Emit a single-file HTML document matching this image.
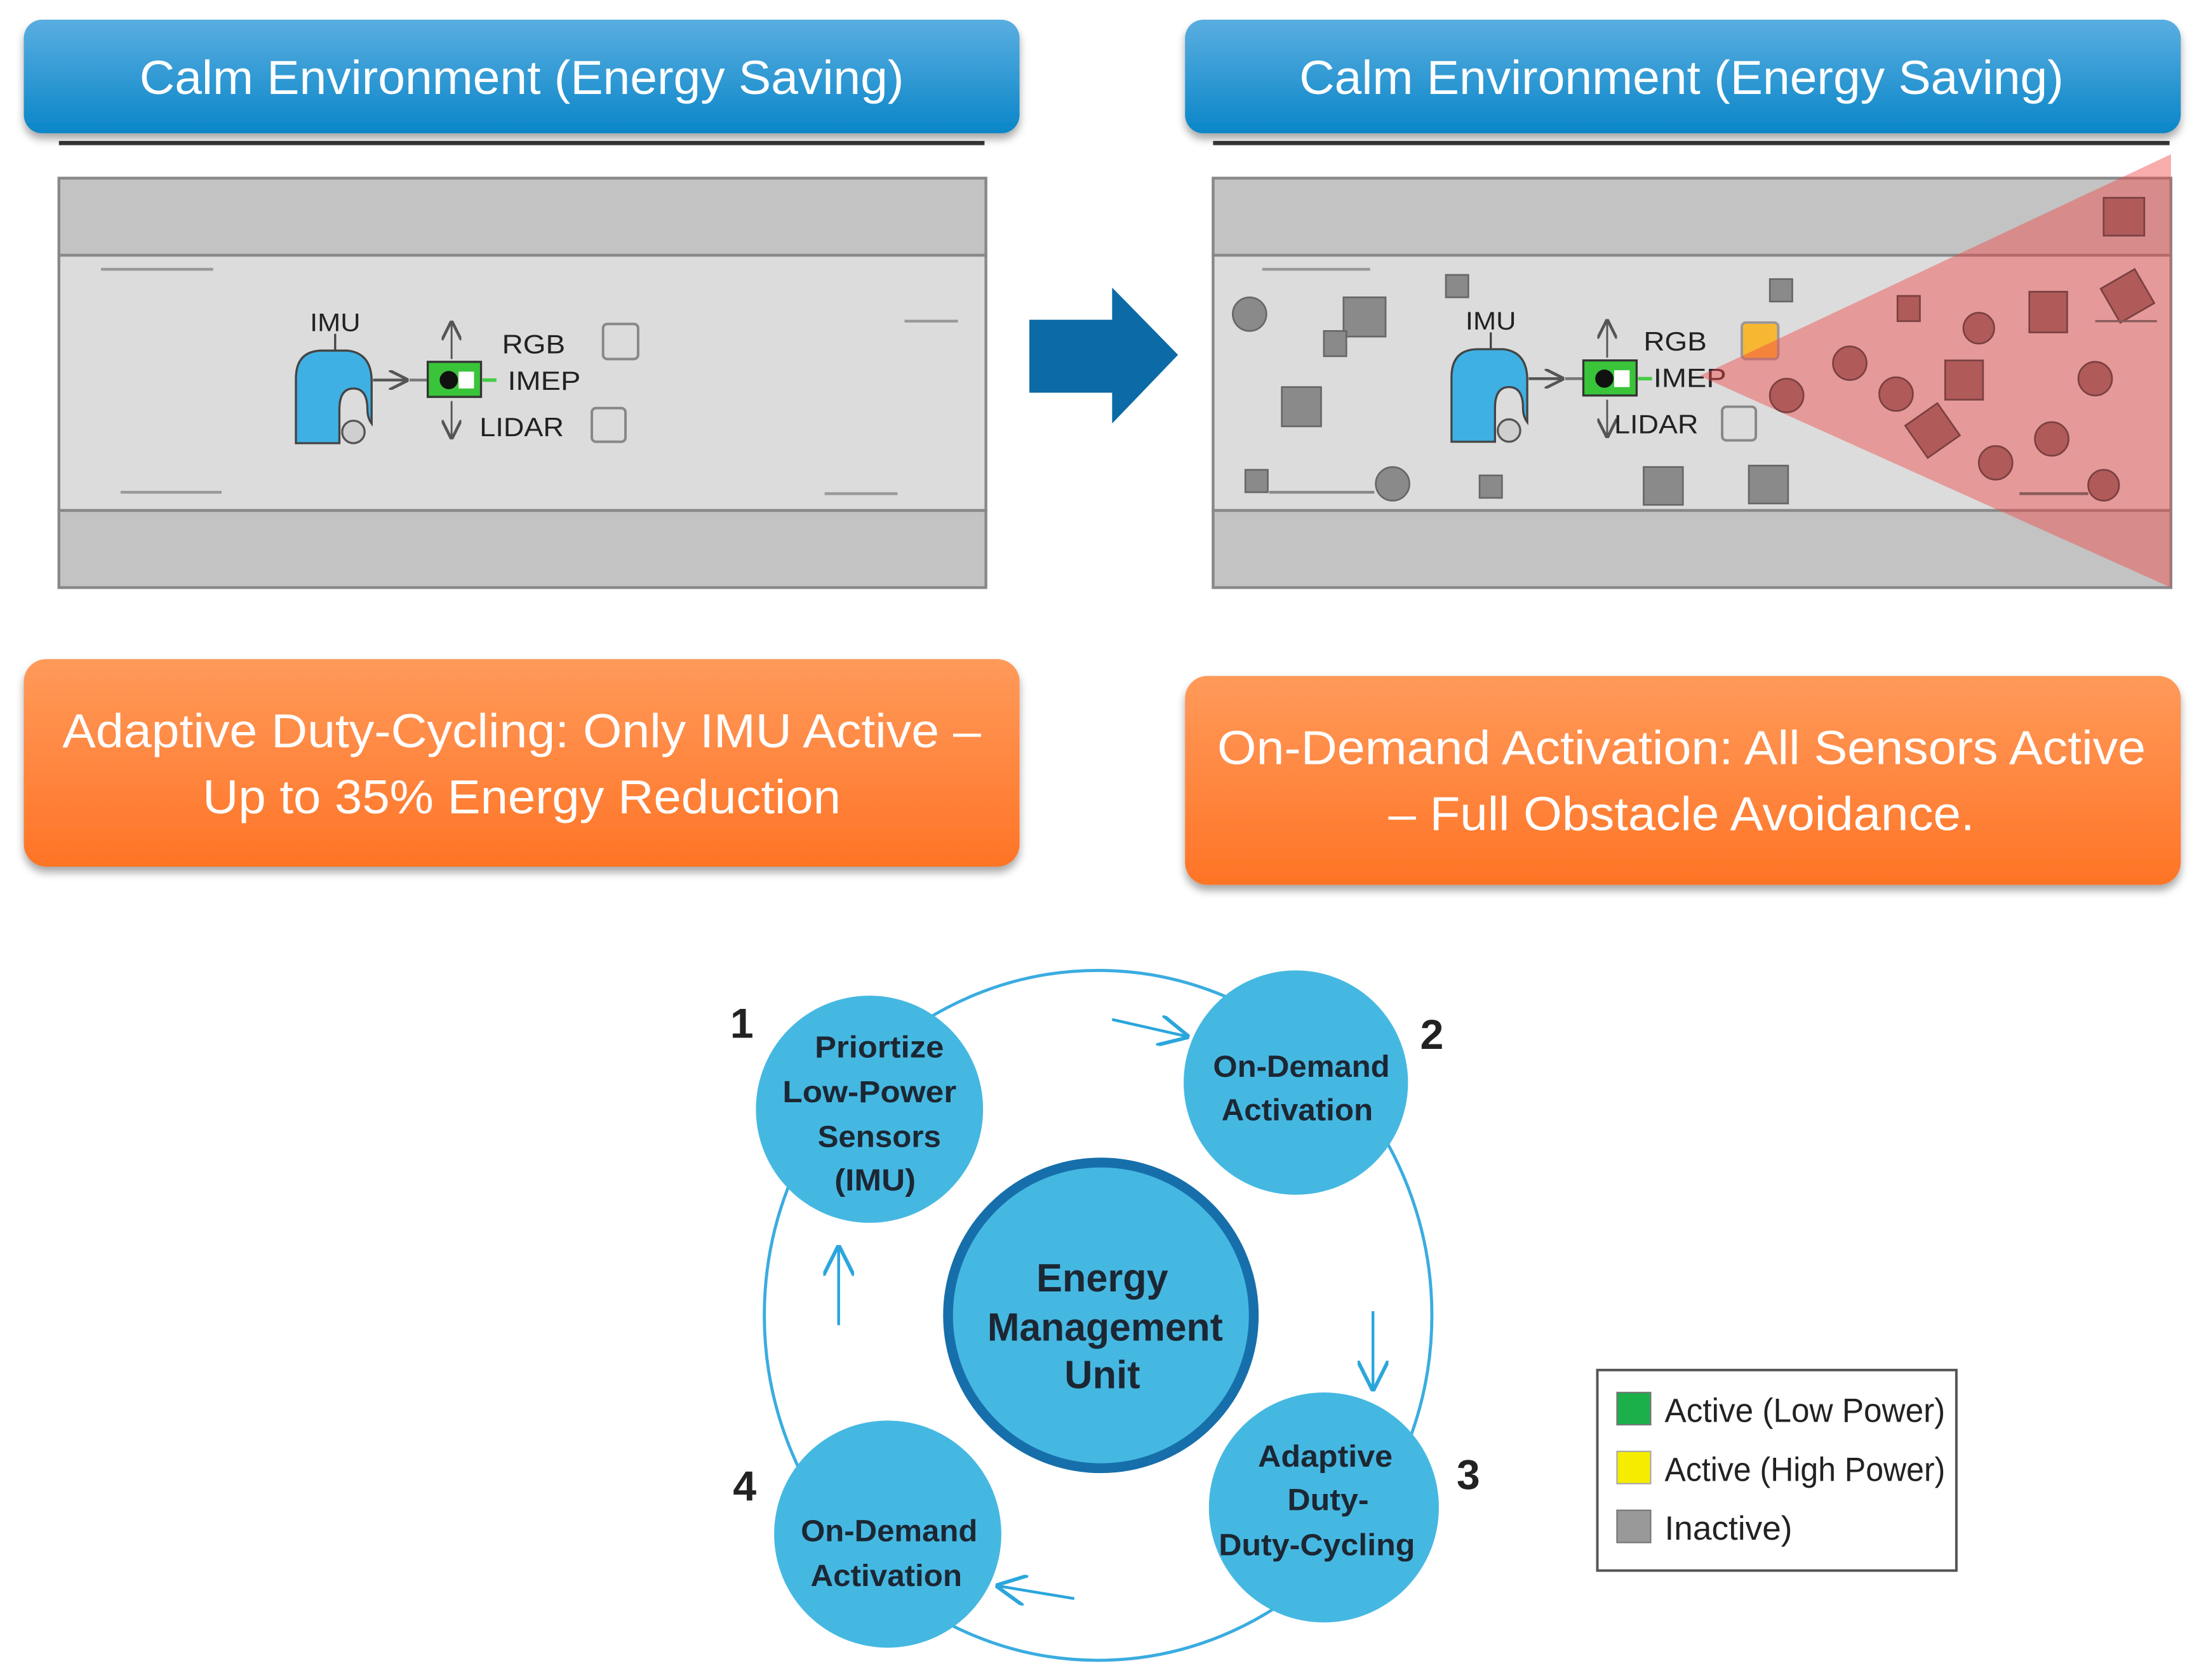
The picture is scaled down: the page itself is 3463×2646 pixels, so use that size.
<!DOCTYPE html>
<html><head><meta charset="utf-8"><style>
html,body{margin:0;padding:0;background:#fff;}
svg{display:block;}
</style></head><body>
<svg width="3463" height="2646" viewBox="0 0 1568 1198" xmlns="http://www.w3.org/2000/svg" font-family="Liberation Sans, sans-serif">
<defs>
<linearGradient id="bg" x1="0" y1="0" x2="0" y2="1"><stop offset="0" stop-color="#5aaee0"/><stop offset="1" stop-color="#0a86c8"/></linearGradient>
<linearGradient id="og" x1="0" y1="0" x2="0" y2="1"><stop offset="0" stop-color="#ff9a5a"/><stop offset="1" stop-color="#ff7426"/></linearGradient>
<filter id="sh" x="-5%" y="-20%" width="110%" height="150%"><feDropShadow dx="0" dy="4" stdDeviation="3" flood-color="#000" flood-opacity="0.35"/></filter>
<marker id="ah" viewBox="0 0 10 10" refX="9" refY="5" markerWidth="14" markerHeight="14" markerUnits="userSpaceOnUse" orient="auto"><path d="M0,0 L10,5 L0,10" fill="none" stroke="#555" stroke-width="1.5"/></marker>
<marker id="bh" viewBox="0 0 10 10" refX="9" refY="5" markerWidth="22" markerHeight="22" markerUnits="userSpaceOnUse" orient="auto"><path d="M0,0 L10,5 L0,10" fill="none" stroke="#2aa6dc" stroke-width="1.2"/></marker>
<g id="robot">
<line x1="239" y1="238" x2="239" y2="250" stroke="#444" stroke-width="1.5"/>
<path d="M211,316 L211,270 Q211,250 230,250 L248,250 Q265,252 265,272 L265,302 Q262,298 262,292 Q262,277 252,277 Q242,277 242,292 L242,316 Z" fill="#3fb0e4" stroke="#444" stroke-width="1.5"/>
<circle cx="252" cy="308" r="8" fill="#cfcfcf" stroke="#555" stroke-width="1.5"/>
<line x1="266" y1="271" x2="290" y2="271" stroke="#555" stroke-width="2" marker-end="url(#ah)"/>
<line x1="292" y1="271" x2="305" y2="271" stroke="#777" stroke-width="2"/>
<rect x="305" y="258" width="38" height="25" fill="#3ac43a" stroke="#333" stroke-width="1.5"/>
<circle cx="320" cy="271" r="6.5" fill="#111"/>
<rect x="327" y="265" width="11" height="12" fill="#fff"/>
<line x1="344" y1="271" x2="354" y2="271" stroke="#4c4" stroke-width="2.5"/>
<line x1="322" y1="256" x2="322" y2="230" stroke="#555" stroke-width="1.3" marker-end="url(#ah)"/>
<line x1="322" y1="286" x2="322" y2="312" stroke="#555" stroke-width="1.3" marker-end="url(#ah)"/>
<text x="239" y="236" font-size="18" text-anchor="middle" fill="#222" textLength="36" lengthAdjust="spacingAndGlyphs">IMU</text>
</g>
</defs>

<!-- headers -->
<rect x="17" y="14" width="710" height="81" rx="13" fill="url(#bg)" filter="url(#sh)"/>
<text x="372" y="67" font-size="34" fill="#fff" text-anchor="middle" font-family="Liberation Sans Narrow, Liberation Sans, sans-serif" textLength="545" lengthAdjust="spacingAndGlyphs">Calm Environment (Energy Saving)</text>
<rect x="845" y="14" width="710" height="81" rx="13" fill="url(#bg)" filter="url(#sh)"/>
<text x="1199" y="67" font-size="34" fill="#fff" text-anchor="middle" textLength="545" lengthAdjust="spacingAndGlyphs">Calm Environment (Energy Saving)</text>
<line x1="42" y1="102" x2="702" y2="102" stroke="#333" stroke-width="3"/>
<line x1="865" y1="102" x2="1547" y2="102" stroke="#333" stroke-width="3"/>

<!-- left road -->
<rect x="42" y="127" width="661" height="55" fill="#c3c3c3" stroke="#888" stroke-width="2"/>
<rect x="42" y="182" width="661" height="182" fill="#dcdcdc" stroke="#888" stroke-width="2"/>
<rect x="42" y="364" width="661" height="55" fill="#c3c3c3" stroke="#888" stroke-width="2"/>
<g stroke="#999" stroke-width="2"><line x1="72" y1="192" x2="152" y2="192"/><line x1="645" y1="229" x2="683" y2="229"/><line x1="86" y1="351" x2="158" y2="351"/><line x1="588" y1="352" x2="640" y2="352"/></g>
<use href="#robot"/>
<g font-size="19" fill="#222">
<text x="358" y="252" textLength="45" lengthAdjust="spacingAndGlyphs">RGB</text>
<text x="362" y="278" textLength="52" lengthAdjust="spacingAndGlyphs">IMEP</text>
<text x="342" y="311" textLength="60" lengthAdjust="spacingAndGlyphs">LIDAR</text>
</g>
<rect x="430" y="231" width="25" height="25" rx="3" fill="none" stroke="#888" stroke-width="1.8"/>
<rect x="422" y="291" width="24" height="24" rx="3" fill="none" stroke="#888" stroke-width="1.8"/>

<!-- big arrow -->
<path d="M734,228 L793,228 L793,205 L840,253 L793,302 L793,280 L734,280 Z" fill="#0c6aa6"/>

<!-- right road -->
<rect x="865" y="127" width="683" height="55" fill="#c3c3c3" stroke="#888" stroke-width="2"/>
<rect x="865" y="182" width="683" height="182" fill="#dcdcdc" stroke="#888" stroke-width="2"/>
<rect x="865" y="364" width="683" height="55" fill="#c3c3c3" stroke="#888" stroke-width="2"/>
<line x1="900" y1="192" x2="977" y2="192" stroke="#999" stroke-width="2"/>
<g fill="#8a8a8a" stroke="#666" stroke-width="1.2">
<ellipse cx="891" cy="224" rx="12" ry="12"/>
<rect x="958" y="212" width="30" height="28"/>
<rect x="944" y="236" width="16" height="18"/>
<rect x="914" y="276" width="28" height="28"/>
<rect x="1031" y="196" width="16" height="16"/>
<rect x="1262" y="199" width="16" height="16"/>
<rect x="888" y="335" width="16" height="16"/>
<ellipse cx="993" cy="345" rx="12" ry="12"/>
<rect x="1055" y="339" width="16" height="16"/>
<rect x="1172" y="333" width="28" height="27"/>
<rect x="1247" y="332" width="28" height="27"/>
</g>
<line x1="905" y1="351" x2="980" y2="351" stroke="#888" stroke-width="2"/>
<use href="#robot" transform="translate(824,-1)"/>
<g font-size="19" fill="#222">
<text x="1172" y="250" textLength="45" lengthAdjust="spacingAndGlyphs">RGB</text>
<text x="1179" y="276" textLength="52" lengthAdjust="spacingAndGlyphs">IMEP</text>
<text x="1151" y="309" textLength="60" lengthAdjust="spacingAndGlyphs">LIDAR</text>
</g>
<rect x="1242" y="230" width="26" height="26" rx="3" fill="#f7b733" stroke="#999" stroke-width="1.8"/>
<rect x="1228" y="290" width="24" height="24" rx="3" fill="none" stroke="#888" stroke-width="1.8"/>
<!-- cone -->
<polygon points="1212,268 1548,110 1548,419" fill="#f04848" fill-opacity="0.45"/>
<g fill="#b05a5a" stroke="#7a4040" stroke-width="1.2">
<rect x="1500" y="141" width="29" height="27"/>
<rect x="1353" y="211" width="16" height="18"/>
<circle cx="1411" cy="234" r="11"/>
<rect x="1447" y="208" width="27" height="29"/>
<rect x="1503" y="197" width="28" height="28" transform="rotate(-30 1517 211)"/>
<circle cx="1319" cy="259" r="12"/>
<circle cx="1274" cy="282" r="12"/>
<circle cx="1352" cy="281" r="12"/>
<rect x="1387" y="257" width="27" height="28"/>
<circle cx="1494" cy="270" r="12"/>
<rect x="1364" y="293" width="28" height="28" transform="rotate(-35 1378 307)"/>
<circle cx="1423" cy="330" r="12"/>
<circle cx="1463" cy="313" r="12"/>
<circle cx="1500" cy="346" r="11"/>
</g>
<line x1="1440" y1="352" x2="1489" y2="352" stroke="#8a5a5a" stroke-width="2"/>
<line x1="1494" y1="229" x2="1538" y2="229" stroke="#8a5a5a" stroke-width="1.5"/>

<!-- orange boxes -->
<rect x="17" y="470" width="710" height="148" rx="16" fill="url(#og)" filter="url(#sh)"/>
<text x="372" y="533" font-size="34" fill="#fff" text-anchor="middle" textLength="655" lengthAdjust="spacingAndGlyphs">Adaptive Duty-Cycling: Only IMU Active –</text>
<text x="372" y="580" font-size="34" fill="#fff" text-anchor="middle" textLength="455" lengthAdjust="spacingAndGlyphs">Up to 35% Energy Reduction</text>
<rect x="845" y="482" width="710" height="149" rx="16" fill="url(#og)" filter="url(#sh)"/>
<text x="1199" y="545" font-size="34" fill="#fff" text-anchor="middle" textLength="662" lengthAdjust="spacingAndGlyphs">On-Demand Activation: All Sensors Active</text>
<text x="1199" y="592" font-size="34" fill="#fff" text-anchor="middle" textLength="418" lengthAdjust="spacingAndGlyphs">– Full Obstacle Avoidance.</text>

<!-- cycle -->
<ellipse cx="783" cy="938" rx="238" ry="246" fill="none" stroke="#3aace0" stroke-width="2.2"/>
<g fill="#45b8e2">
<circle cx="620" cy="791" r="81"/>
<circle cx="924" cy="772" r="80"/>
<circle cx="944" cy="1075" r="82"/>
<circle cx="633" cy="1094" r="81"/>
</g>
<circle cx="785" cy="938" r="109" fill="#45b8e2" stroke="#166fab" stroke-width="7"/>
<g stroke="#2aa6dc" stroke-width="2" fill="none">
<line x1="793" y1="727" x2="846" y2="739" marker-end="url(#bh)"/>
<line x1="979" y1="935" x2="979" y2="990" marker-end="url(#bh)"/>
<line x1="766" y1="1140" x2="712" y2="1131" marker-end="url(#bh)"/>
<line x1="598" y1="945" x2="598" y2="890" marker-end="url(#bh)"/>
</g>
<g font-size="30" font-weight="bold" fill="#222" text-anchor="middle">
<text x="529" y="740">1</text><text x="1021" y="748">2</text><text x="1047" y="1062">3</text><text x="531" y="1070">4</text>
</g>
<g font-size="22" font-weight="bold" fill="#1c2733" text-anchor="middle">
<text x="627" y="754" textLength="92" lengthAdjust="spacingAndGlyphs">Priortize</text>
<text x="620" y="786" textLength="124" lengthAdjust="spacingAndGlyphs">Low-Power</text>
<text x="627" y="818" textLength="88" lengthAdjust="spacingAndGlyphs">Sensors</text>
<text x="624" y="849" textLength="58" lengthAdjust="spacingAndGlyphs">(IMU)</text>
<text x="928" y="768" textLength="126" lengthAdjust="spacingAndGlyphs">On-Demand</text>
<text x="925" y="799" textLength="108" lengthAdjust="spacingAndGlyphs">Activation</text>
<text x="945" y="1046" textLength="96" lengthAdjust="spacingAndGlyphs">Adaptive</text>
<text x="947" y="1077" textLength="58" lengthAdjust="spacingAndGlyphs">Duty-</text>
<text x="939" y="1109" textLength="140" lengthAdjust="spacingAndGlyphs">Duty-Cycling</text>
<text x="634" y="1099" textLength="126" lengthAdjust="spacingAndGlyphs">On-Demand</text>
<text x="632" y="1131" textLength="108" lengthAdjust="spacingAndGlyphs">Activation</text>
</g>
<g font-size="28" font-weight="bold" fill="#1c2733" text-anchor="middle">
<text x="786" y="921" textLength="94" lengthAdjust="spacingAndGlyphs">Energy</text>
<text x="788" y="956" textLength="168" lengthAdjust="spacingAndGlyphs">Management</text>
<text x="786" y="990" textLength="54" lengthAdjust="spacingAndGlyphs">Unit</text>
</g>

<!-- legend -->
<rect x="1139" y="977" width="256" height="143" fill="#fff" stroke="#555" stroke-width="1.8"/>
<rect x="1153" y="993" width="24" height="23" fill="#1bb04a" stroke="#777"/>
<rect x="1153" y="1035" width="24" height="23" fill="#f5ec00" stroke="#aaa"/>
<rect x="1153" y="1077" width="24" height="23" fill="#999" stroke="#777"/>
<g font-size="24" fill="#222">
<text x="1187" y="1014" textLength="200" lengthAdjust="spacingAndGlyphs">Active (Low Power)</text>
<text x="1187" y="1056" textLength="200" lengthAdjust="spacingAndGlyphs">Active (High Power)</text>
<text x="1187" y="1098" textLength="91" lengthAdjust="spacingAndGlyphs">Inactive)</text>
</g>
</svg>
</body></html>
